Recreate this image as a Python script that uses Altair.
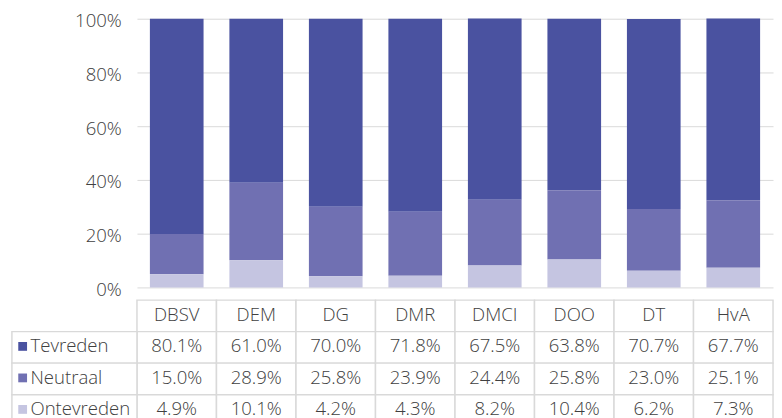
import altair as alt
import pandas as pd

categories = ["DBSV", "DEM", "DG", "DMR", "DMCI", "DOO", "DT", "HvA"]
series = ["Tevreden", "Neutraal", "Ontevreden"]
tevreden = [80.1, 61.0, 70.0, 71.8, 67.5, 63.8, 70.7, 67.7]
neutraal = [15.0, 28.9, 25.8, 23.9, 24.4, 25.8, 23.0, 25.1]
ontevreden = [4.9, 10.1, 4.2, 4.3, 8.2, 10.4, 6.2, 7.3]
colors = ["#4A52A0", "#7070B2", "#C5C5E1"]
y_ticks = [0, 0.2, 0.4, 0.6, 0.8, 1.0]

FONT = "Open Sans"
FS = 19
FW = 300
TXT = "#404040"
GRID = "#d9d9d9"

rows = []
for i, c in enumerate(categories):
    for s, vals, o in zip(series, [tevreden, neutraal, ontevreden], [2, 1, 0]):
        rows.append({"cat": c, "series": s, "value": vals[i] / 100, "ord": o,
                     "label": f"{vals[i]:.1f}%"})
df = pd.DataFrame(rows)

hdr = pd.DataFrame({"cat": categories, "row": ["hdr"] * len(categories), "text": categories})
vals_tbl = df.rename(columns={"series": "row", "label": "text"})[["cat", "row", "text"]]
tbl = pd.concat([hdr, vals_tbl], ignore_index=True)
left = pd.DataFrame({"row": series, "series": series})

color_scale = alt.Scale(domain=series, range=colors)
row_domain = ["hdr"] + series

bars = alt.Chart(df).mark_bar().encode(
    x=alt.X("cat:N", sort=categories, axis=None,
            scale=alt.Scale(paddingInner=0.325, paddingOuter=0.1625)),
    y=alt.Y("value:Q", stack="zero", scale=alt.Scale(domain=[0, 1], nice=False),
            axis=alt.Axis(format=".0%", values=y_ticks, grid=True, gridColor=GRID,
                          gridWidth=1, domain=False, ticks=False, labelPadding=16,
                          labelFontSize=FS, labelFontWeight=FW, labelColor=TXT,
                          labelFont=FONT, title=None, labelOffset=2)),
    color=alt.Color("series:N", scale=color_scale, legend=None),
    order=alt.Order("ord:Q"),
).properties(width=651, height=275)

xt = alt.X("cat:N", sort=categories, axis=None, scale=alt.Scale(paddingInner=0, paddingOuter=0))
yt = alt.Y("row:N", sort=row_domain, axis=None,
           scale=alt.Scale(domain=row_domain, paddingInner=0, paddingOuter=0))

cells = alt.Chart(tbl).mark_rect(fill="white", stroke=GRID, strokeWidth=1.5).encode(x=xt, y=yt)
texts = alt.Chart(tbl).mark_text(font=FONT, fontSize=FS, fontWeight=FW, color=TXT, dy=-1).encode(
    x=xt, y=yt, text="text:N")
left_cells = alt.Chart(left).mark_rect(fill="white", stroke=GRID, strokeWidth=1.5).encode(
    x=alt.value(-128), x2=alt.value(0), y=yt)
swatches = alt.Chart(left).mark_square(size=81, opacity=1, yOffset=-1).encode(
    x=alt.value(-117), y=yt, color=alt.Color("series:N", scale=color_scale, legend=None))
left_text = alt.Chart(left).mark_text(font=FONT, fontSize=FS, fontWeight=FW, color=TXT,
                                      align="left", dy=-1).encode(
    x=alt.value(-109), y=yt, text="row:N")

table = alt.layer(cells, left_cells, texts, swatches, left_text).properties(width=651, height=129)

chart = alt.vconcat(bars, table, spacing=0).resolve_scale(
    x="independent", y="independent", color="shared"
).configure_view(stroke=None).properties(
    padding={"left": 3, "top": -1, "right": 0, "bottom": 0}
)

chart.save("out.html", embed_options={"renderer": "svg", "actions": False})
